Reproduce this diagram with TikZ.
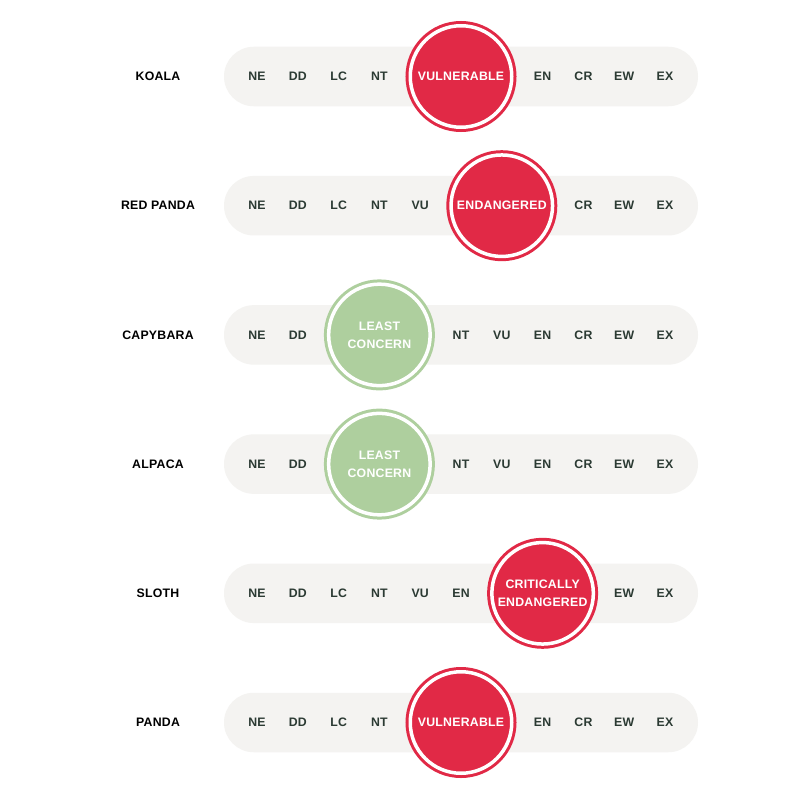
\documentclass[tikz,border=0pt]{standalone}
\usepackage{fontspec}
\setmainfont{Liberation Sans}[LetterSpace=2]
\usetikzlibrary{shapes.misc}
\definecolor{redlist}{RGB}{225,41,70}
\definecolor{leastgreen}{RGB}{174,207,158}
\definecolor{pillgray}{RGB}{244,243,241}
\definecolor{codetext}{RGB}{43,58,51}
\begin{document}
\begin{tikzpicture}[x=1pt,y=-1pt,
    every node/.style={font=\fontsize{12.3}{18}\selectfont\bfseries},
    animal/.style={text=black},
    code/.style={text=codetext},
    pill/.style={rounded rectangle,fill=pillgray,minimum width=474pt,minimum height=59.5pt,inner sep=0pt},
    status/.style={circle,draw=#1,fill=#1,line width=3pt,double=white,double distance=3.5pt,
      minimum size=101.5pt,inner sep=0pt,text=white,align=center}]
  \useasboundingbox[fill=white] (0,0) rectangle (800,800);
  % bars
  \node[pill] (bar1) at (461,76.5) {};
  \node[pill] (bar2) at (461,205.7) {};
  \node[pill] (bar3) at (461,334.9) {};
  \node[pill] (bar4) at (461,464.1) {};
  \node[pill] (bar5) at (461,593.3) {};
  \node[pill] (bar6) at (461,722.5) {};
  % animals
  \draw
    (158,76.5) node[animal] (koala){KOALA}
    (158,205.7) node[animal] (redpanda){RED PANDA}
    (158,334.9) node[animal] (capybara){CAPYBARA}
    (158,464.1) node[animal] (alpaca){ALPACA}
    (158,593.3) node[animal] (sloth){SLOTH}
    (158,722.5) node[animal] (panda){PANDA};
  % koala
  \draw
    (257,76.5) node[code] (ne1){NE}
    (297.8,76.5) node[code] (dd1){DD}
    (338.6,76.5) node[code] (lc1){LC}
    (379.4,76.5) node[code] (nt1){NT}
    (461,76.5) node[status=redlist] (vu1){VULNERABLE}
    (542.6,76.5) node[code] (en1){EN}
    (583.4,76.5) node[code] (cr1){CR}
    (624.2,76.5) node[code] (ew1){EW}
    (665,76.5) node[code] (ex1){EX};
  % red panda
  \draw
    (257,205.7) node[code] (ne2){NE}
    (297.8,205.7) node[code] (dd2){DD}
    (338.6,205.7) node[code] (lc2){LC}
    (379.4,205.7) node[code] (nt2){NT}
    (420.2,205.7) node[code] (vu2){VU}
    (501.8,205.7) node[status=redlist] (en2){ENDANGERED}
    (583.4,205.7) node[code] (cr2){CR}
    (624.2,205.7) node[code] (ew2){EW}
    (665,205.7) node[code] (ex2){EX};
  % capybara
  \draw
    (257,334.9) node[code] (ne3){NE}
    (297.8,334.9) node[code] (dd3){DD}
    (379.4,334.9) node[status=leastgreen] (lc3){LEAST\\CONCERN}
    (461,334.9) node[code] (nt3){NT}
    (501.8,334.9) node[code] (vu3){VU}
    (542.6,334.9) node[code] (en3){EN}
    (583.4,334.9) node[code] (cr3){CR}
    (624.2,334.9) node[code] (ew3){EW}
    (665,334.9) node[code] (ex3){EX};
  % alpaca
  \draw
    (257,464.1) node[code] (ne4){NE}
    (297.8,464.1) node[code] (dd4){DD}
    (379.4,464.1) node[status=leastgreen] (lc4){LEAST\\CONCERN}
    (461,464.1) node[code] (nt4){NT}
    (501.8,464.1) node[code] (vu4){VU}
    (542.6,464.1) node[code] (en4){EN}
    (583.4,464.1) node[code] (cr4){CR}
    (624.2,464.1) node[code] (ew4){EW}
    (665,464.1) node[code] (ex4){EX};
  % sloth
  \draw
    (257,593.3) node[code] (ne5){NE}
    (297.8,593.3) node[code] (dd5){DD}
    (338.6,593.3) node[code] (lc5){LC}
    (379.4,593.3) node[code] (nt5){NT}
    (420.2,593.3) node[code] (vu5){VU}
    (461,593.3) node[code] (en5){EN}
    (542.6,593.3) node[status=redlist] (cr5){CRITICALLY\\ENDANGERED}
    (624.2,593.3) node[code] (ew5){EW}
    (665,593.3) node[code] (ex5){EX};
  % panda
  \draw
    (257,722.5) node[code] (ne6){NE}
    (297.8,722.5) node[code] (dd6){DD}
    (338.6,722.5) node[code] (lc6){LC}
    (379.4,722.5) node[code] (nt6){NT}
    (461,722.5) node[status=redlist] (vu6){VULNERABLE}
    (542.6,722.5) node[code] (en6){EN}
    (583.4,722.5) node[code] (cr6){CR}
    (624.2,722.5) node[code] (ew6){EW}
    (665,722.5) node[code] (ex6){EX};
\end{tikzpicture}
\end{document}
